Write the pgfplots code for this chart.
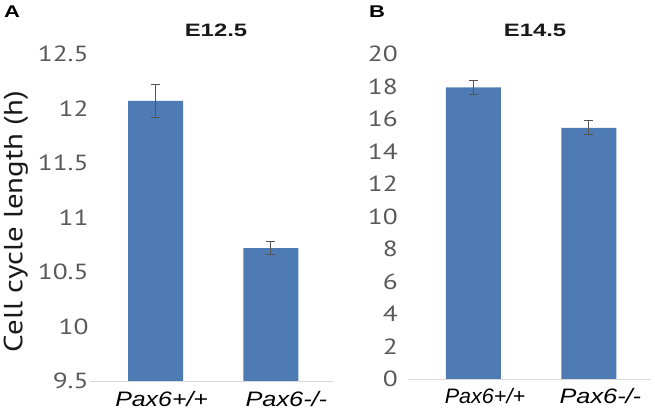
\documentclass[border=0pt]{standalone}
\usepackage{pgfplots}
\pgfplotsset{compat=1.18}
\usepackage{fontspec}
\setmainfont{Liberation Sans}
\newfontfamily\tickfont{PT Sans}
\definecolor{barblue}{HTML}{4F7BB4}
\definecolor{tickgray}{HTML}{595959}
\definecolor{errgray}{HTML}{555555}
\begin{document}
\begin{tikzpicture}
\path[use as bounding box] (0bp,0bp) rectangle (655bp,413bp);
\pgfplotsset{
  panel/.style={
    scale only axis,
    axis x line=bottom,
    axis y line=left,
    y axis line style={draw=none},
    x axis line style={draw=black!15, line width=0.8bp, -},
    major tick length=0pt,
    xtick style={draw=none},
    ytick style={draw=none},
    yticklabel style={font=\tickfont\fontsize{22}{22}\selectfont, text=tickgray, anchor=east, inner sep=0pt, xscale=1.25},
    xticklabel style={font=\itshape\fontsize{21}{21}\selectfont, text=black, anchor=north, inner sep=0pt},
    /pgf/number format/assume math mode=true,
    ybar, bar width=55bp, bar shift=0pt,
    clip=false,
  },
  barstyle/.style={fill=barblue, draw=none,
    error bars/.cd, y dir=both, y explicit,
    error bar style={draw=errgray, line width=0.9bp},
    error mark options={draw=errgray, line width=0.9bp, mark size=4.5bp, rotate=90}},
}
% Panel A
\begin{axis}[panel, at={(90bp,32bp)}, anchor=south west, width=243bp, height=327bp,
  xmin=-0.57, xmax=1.54, ymin=9.5, ymax=12.5,
  ytick={9.5,10,10.5,11,11.5,12,12.5},
  yticklabels={9.5,10,10.5,11,11.5,12,12.5},
  yticklabel style={xshift=-1bp},
  xtick={0.052,1.135},
  xticklabels={\scalebox{1.19}[1]{Pax6+/+},\scalebox{1.21}[1]{Pax6-/-}},
  xticklabel style={yshift=-10bp},
]
\addplot[barstyle] coordinates {(0,12.07) +- (0,0.15) (1,10.72) +- (0,0.06)};
\end{axis}
% Panel B
\begin{axis}[panel, at={(408bp,34bp)}, anchor=south west, width=242bp, height=325bp,
  xmin=-0.567, xmax=1.53, ymin=0, ymax=20,
  ytick={0,2,4,6,8,10,12,14,16,18,20},
  yticklabels={0,2,4,6,8,10,12,14,16,18,20},
  yticklabel style={xshift=-8bp},
  xtick={0.1,1.1},
  xticklabels={\scalebox{1.03}[1]{Pax6+/+},\scalebox{1.21}[1]{Pax6-/-}},
  xticklabel style={yshift=-9bp},
]
\addplot[barstyle] coordinates {(0,17.95) +- (0,0.41) (1,15.45) +- (0,0.43)};
\end{axis}
% ylabel
\node[rotate=90, yscale=0.85, font=\tickfont\fontsize{31}{31}\selectfont, text=black!90] at (16bp,191.5bp) {Cell cycle length (h)};
% titles
\node[xscale=1.33, font=\bfseries\fontsize{18}{18}\selectfont, text=black!90] at (216bp,383bp) {E12.5};
\node[xscale=1.33, font=\bfseries\fontsize{18}{18}\selectfont, text=black!90] at (535bp,383bp) {E14.5};
\node[xscale=1.3, font=\bfseries\fontsize{17}{17}\selectfont] at (12bp,401bp) {A};
\node[xscale=1.3, font=\bfseries\fontsize{17}{17}\selectfont] at (377bp,401bp) {B};
\end{tikzpicture}
\end{document}
